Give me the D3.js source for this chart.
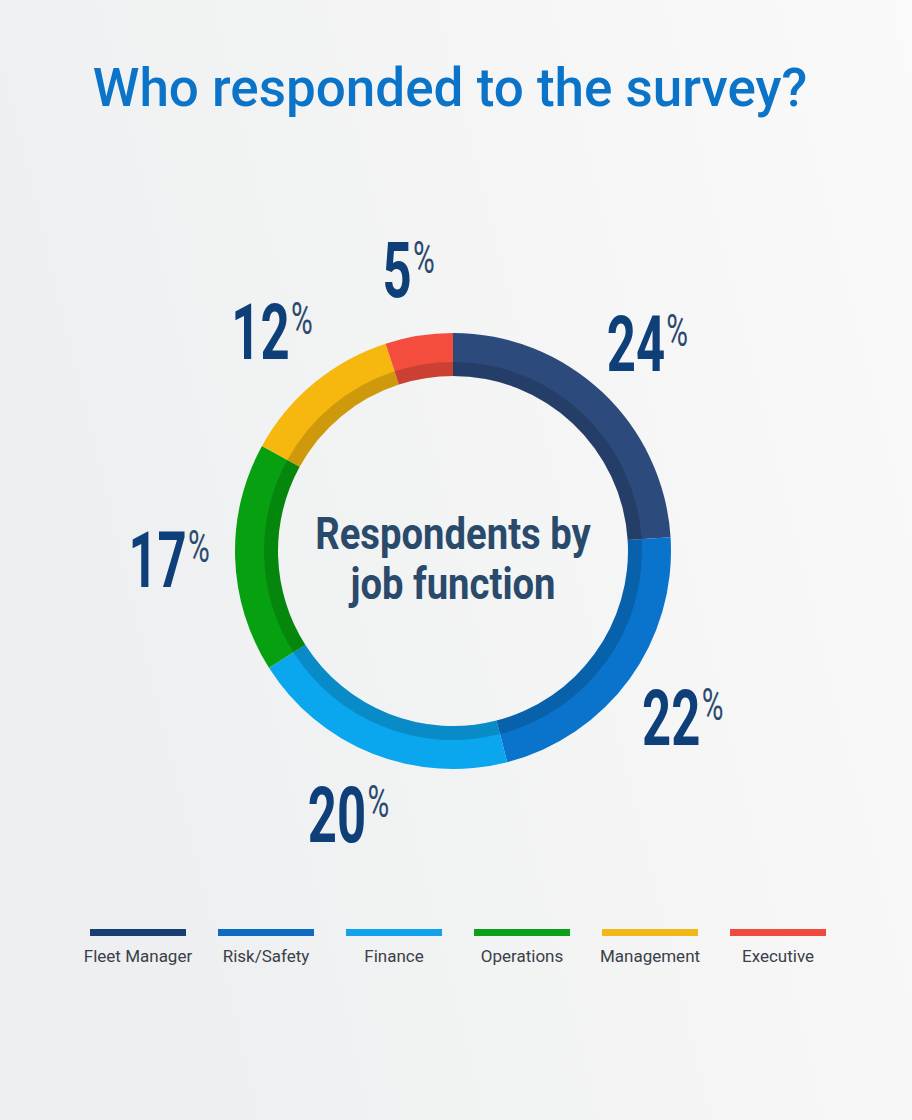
<!DOCTYPE html>
<html>
<head>
<meta charset="utf-8">
<script src="https://cdn.jsdelivr.net/npm/d3@7"></script>
<style>
  html, body { margin: 0; padding: 0; }
  body { width: 912px; height: 1120px; overflow: hidden; }
  svg { display: block; }
</style>
</head>
<body>
<svg id="chart" width="912" height="1120"></svg>
<script>
// ---- data ----
const title = "Who responded to the survey?";
const centerLines = ["Respondents by", "job function"];
const categories = ["Fleet Manager", "Risk/Safety", "Finance", "Operations", "Management", "Executive"];
const values = [24, 22, 20, 17, 12, 5];
const ringColors = ["#2d4a7c", "#0a74cc", "#0aa6ee", "#07a010", "#f6b80e", "#f44d3e"];
const legendColors = ["#173f72", "#0e6cc0", "#10a3ec", "#0aa019", "#f0b919", "#f04a40"];

// ---- layout ----
const W = 912, H = 1120;
const cx = 453, cy = 551;
const outerR = 218, innerR = 175, bandR = 189, labelR = 284;

const svg = d3.select("#chart");

// background
const defs = svg.append("defs");
const bg = defs.append("linearGradient").attr("id", "bg")
  .attr("x1", "0").attr("y1", "0.3").attr("x2", "1").attr("y2", "0");
bg.append("stop").attr("offset", "0").attr("stop-color", "#eeeff0");
bg.append("stop").attr("offset", "1").attr("stop-color", "#fafafa");
svg.append("rect").attr("width", W).attr("height", H).attr("fill", "url(#bg)");

// title
svg.append("text")
  .attr("x", 450).attr("y", 106)
  .attr("text-anchor", "middle")
  .attr("font-family", "Roboto, sans-serif")
  .attr("font-weight", 500)
  .attr("font-size", 53)
  .attr("fill", "#0b74c9")
  .text(title);

// donut
const pie = d3.pie().sort(null).value(d => d)(values);
const arc = d3.arc().innerRadius(innerR).outerRadius(outerR);
const bandArc = d3.arc().innerRadius(innerR).outerRadius(bandR);
const labelArc = d3.arc().innerRadius(labelR).outerRadius(labelR);

const g = svg.append("g").attr("transform", `translate(${cx},${cy})`);
g.selectAll("path.slice").data(pie).join("path")
  .attr("class", "slice")
  .attr("d", arc)
  .attr("fill", (d, i) => ringColors[i]);
g.selectAll("path.band").data(pie).join("path")
  .attr("class", "band")
  .attr("d", bandArc)
  .attr("fill", "#000")
  .attr("fill-opacity", 0.16);

// percentage labels
const labels = g.selectAll("g.label").data(pie).join("g")
  .attr("class", "label")
  .attr("transform", d => {
    const [x, y] = labelArc.centroid(d);
    return `translate(${x},${y + 27}) scale(0.66,1)`;
  });
const lt = labels.append("text")
  .attr("text-anchor", "middle")
  .attr("font-family", "Roboto, sans-serif");
lt.append("tspan")
  .attr("font-weight", 700)
  .attr("font-size", 77)
  .attr("fill", "#0f3f78")
  .text(d => d.data);
lt.append("tspan")
  .attr("dx", 2)
  .attr("dy", -25)
  .attr("font-weight", 400)
  .attr("font-size", 45)
  .attr("fill", "#2b4a6e")
  .text("%");

// center text
const ct = svg.append("g").attr("transform", `translate(${cx},0) scale(0.85,1)`);
ct.selectAll("text").data(centerLines).join("text")
  .attr("x", 0)
  .attr("y", (d, i) => 549 + i * 50)
  .attr("text-anchor", "middle")
  .attr("font-family", "Roboto, sans-serif")
  .attr("font-weight", 700)
  .attr("font-size", 45)
  .attr("fill", "#2a4a6b")
  .text(d => d);

// legend
const legX = d3.scalePoint().domain(categories).range([138, 778]);
const leg = svg.append("g").selectAll("g").data(categories).join("g")
  .attr("transform", d => `translate(${legX(d)},0)`);
leg.append("rect")
  .attr("x", -48).attr("y", 929)
  .attr("width", 96).attr("height", 7)
  .attr("fill", (d, i) => legendColors[i]);
leg.append("text")
  .attr("y", 962)
  .attr("text-anchor", "middle")
  .attr("font-family", "Roboto, sans-serif")
  .attr("font-size", 17)
  .attr("fill", "#3a4049")
  .text(d => d);
</script>
</body>
</html>
